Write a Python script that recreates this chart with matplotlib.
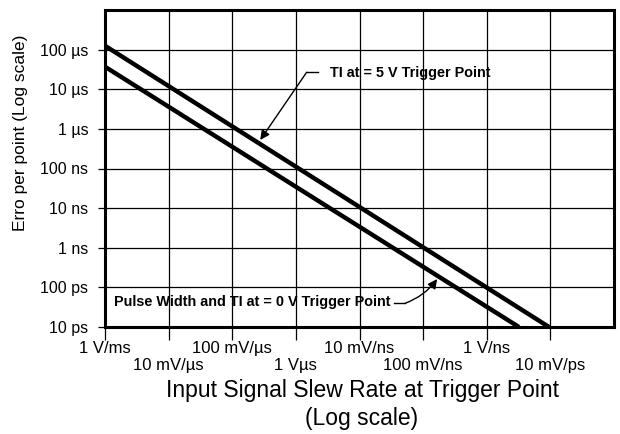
import matplotlib
matplotlib.use('Agg')
import matplotlib.pyplot as plt

# slew rate in V/s, error in seconds
slew_5v = [1e3, 9.5e9]
err_5v = [1.25e-4, 1e-11]
slew_0v = [1e3, 3.2e9]
err_0v = [3.7e-5, 1e-11]

# x labels sit on two staggered rows
x_ticks_top = [1e3, 1e5, 1e7, 1e9]
x_labels_top = ['1 V/ms', '100 mV/\u00b5s', '10 mV/ns', '1 V/ns']
x_ticks_low = [1e4, 1e6, 1e8, 1e10]
x_labels_low = ['10 mV/\u00b5s', '1 V\u00b5s', '100 mV/ns', '10 mV/ps']
y_ticks = [1e-11, 1e-10, 1e-9, 1e-8, 1e-7, 1e-6, 1e-5, 1e-4]
y_labels = ['10 ps', '100 ps', '1 ns', '10 ns', '100 ns', '1 \u00b5s', '10 \u00b5s',
            '100 \u00b5s']

plt.rcParams['font.family'] = ['Liberation Sans', 'DejaVu Sans']

fig = plt.figure(figsize=(6.2, 4.34), dpi=100)
ax = fig.add_axes([105 / 620, 1 - 327 / 434, 509 / 620, 317 / 434])
ax.set_xscale('log')
ax.set_yscale('log')
ax.set_xlim(1e3, 1e11)
ax.set_ylim(1e-11, 1e-3)

ax.plot(slew_5v, err_5v, color='black', linewidth=3.2, solid_capstyle='butt', zorder=3)
ax.plot(slew_0v, err_0v, color='black', linewidth=3.2, solid_capstyle='butt', zorder=3)

ax.set_xticks(x_ticks_top)
ax.set_xticklabels(x_labels_top, fontsize=12)
ax.set_xticks(x_ticks_low, minor=True)
ax.set_xticklabels(x_labels_low, minor=True, fontsize=12)
ax.set_yticks(y_ticks)
ax.set_yticklabels(y_labels, fontsize=11.5)
ax.set_yticks([], minor=True)
ax.tick_params(axis='x', which='major', direction='out', length=9, width=0.9, pad=1)
ax.tick_params(axis='x', which='minor', direction='out', length=9, width=0.9, pad=13)
ax.tick_params(axis='y', direction='out', length=5, width=0.9, pad=7)

ax.grid(True, which='both', color='black', linewidth=0.9)
# the two top/right grid lines fall on the frame itself
for v in [1e-3]:
    ax.axhline(v, color='black', linewidth=0.9)
ax.axvline(1e11, color='black', linewidth=0.9)

for sp in ax.spines.values():
    sp.set_linewidth(2.2)
    sp.set_zorder(4)

ax.set_ylabel('Erro per point (Log scale)', fontsize=12.5)
ax.yaxis.set_label_coords(-0.151, 0.612)
fig.text(363 / 620, 1 - 390 / 434, 'Input Signal Slew Rate at Trigger Point',
         fontsize=16.5, ha='center', va='center')
fig.text(362 / 620, 1 - 418 / 434, '(Log scale)', fontsize=16.5, ha='center', va='center')

note_font = dict(family=['Liberation Sans Narrow', 'Liberation Sans'], weight='bold',
                 fontsize=10.4)

# callout for the 5 V curve
ax.text(10 ** 6.54, 10 ** -4.59, 'TI at = 5 V Trigger Point', ha='left', va='center',
        **note_font)
ax.plot([10 ** 6.17, 10 ** 6.35], [10 ** -4.57, 10 ** -4.57], color='black', linewidth=1)
ax.annotate('', xy=(10 ** 5.44, 10 ** -6.28), xytext=(10 ** 6.17, 10 ** -4.57),
            arrowprops=dict(arrowstyle='-|>', color='black', lw=1,
                            mutation_scale=14, shrinkA=0, shrinkB=0))

# callout for the 0 V curve
ax.text(10 ** 3.14, 10 ** -10.38, 'Pulse Width and TI at = 0 V Trigger Point', ha='left',
        va='center', **note_font)
ax.plot([10 ** 7.55, 10 ** 7.72], [10 ** -10.40, 10 ** -10.40], color='black', linewidth=1)
ax.annotate('', xy=(10 ** 8.22, 10 ** -9.79), xytext=(10 ** 7.72, 10 ** -10.40),
            arrowprops=dict(arrowstyle='-|>', color='black', lw=1,
                            mutation_scale=14, shrinkA=0, shrinkB=0,
                            connectionstyle='arc3,rad=0.15'))

fig.savefig('out.png', dpi=100)
